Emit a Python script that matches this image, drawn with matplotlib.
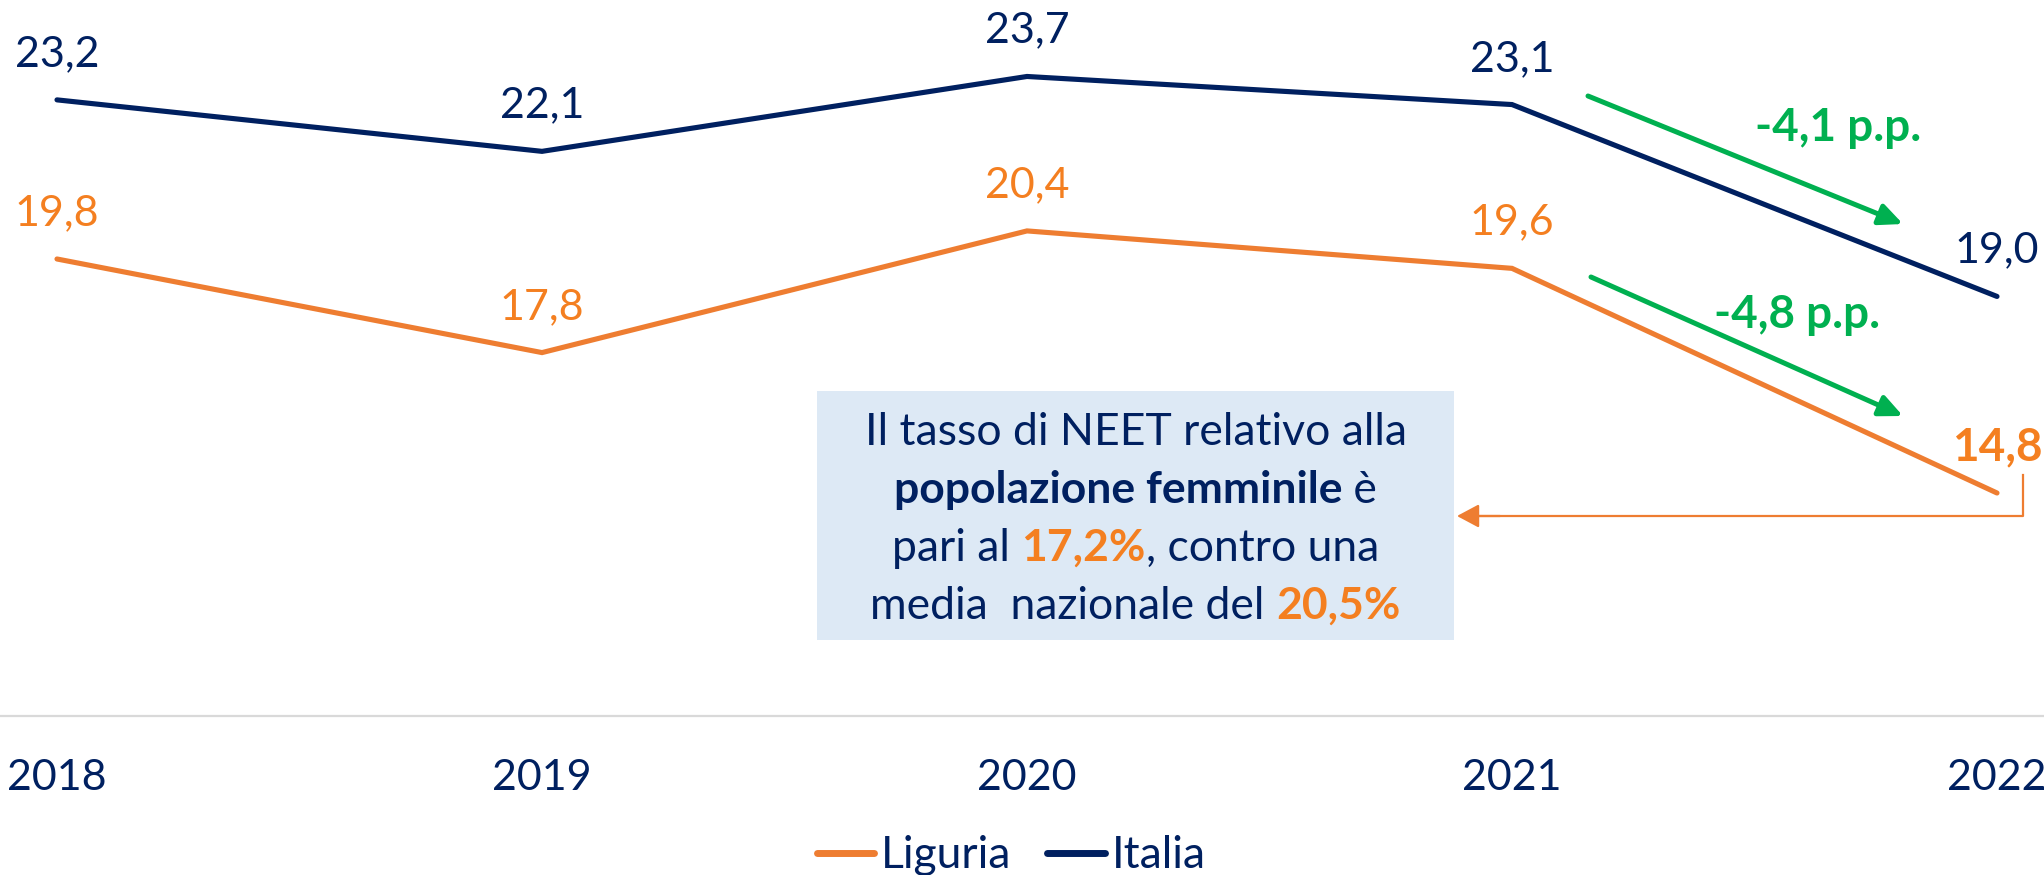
import matplotlib
matplotlib.use("Agg")
import matplotlib.pyplot as plt
from matplotlib.patches import Rectangle
from matplotlib.lines import Line2D

plt.rcParams['font.family'] = ['Lato', 'DejaVu Sans']

# ---- data ----
years = ["2018", "2019", "2020", "2021", "2022"]
liguria = [19.8, 17.8, 20.4, 19.6, 14.8]
italia = [23.2, 22.1, 23.7, 23.1, 19.0]
series_names = ["Liguria", "Italia"]
delta_labels = ["-4,1 p.p.", "-4,8 p.p."]
box_lines = [
    [("Il tasso di NEET relativo alla", "normal", "navy")],
    [("popolazione femminile", "bold", "navy"), (" è", "normal", "navy")],
    [("pari al ", "normal", "navy"), ("17,2%", "bold", "orange"), (", contro una", "normal", "navy")],
    [("media  nazionale del ", "normal", "navy"), ("20,5%", "bold", "orange")],
]

NAVY = "#002060"
ORANGE = "#ee7d31"
ORANGE_T = "#f47f20"
GREEN = "#00b050"
BOXC = "#dde9f5"
COLORS = {"navy": NAVY, "orange": ORANGE_T}

W, H = 2044, 875
DPI = 100
fig = plt.figure(figsize=(W / DPI, H / DPI), dpi=DPI)

def fx(px):
    return px / W

def fy(py):
    return 1 - py / H

FS = 31
FSB = 33
FSBOX = 32

ax = fig.add_axes([0, fy(716), 1, 716 / H])
ax.set_facecolor("none")
x = list(range(len(years)))
ax.plot(x, liguria, color=ORANGE, lw=3.7, solid_capstyle="round", solid_joinstyle="miter", label=series_names[0])
ax.plot(x, italia, color=NAVY, lw=3.7, solid_capstyle="round", solid_joinstyle="miter", label=series_names[1])
ax.set_xlim(-57 / 485, (W - 57) / 485)
ax.set_ylim(10.035, 25.334)

for s in ["top", "left", "right"]:
    ax.spines[s].set_visible(False)
ax.spines["bottom"].set_color("#d9d9d9")
ax.spines["bottom"].set_linewidth(1.6)
ax.set_yticks([])
ax.set_xticks(x)
ax.set_xticklabels(years)
ax.tick_params(axis="x", length=0, pad=31, labelsize=FS, labelcolor=NAVY)

def fmt(v):
    return f"{v:.1f}".replace(".", ",")

for i, v in enumerate(italia):
    ax.annotate(fmt(v), (i, v), xytext=(0, 33), textcoords="offset points",
                ha="center", va="center", fontsize=FS, color=NAVY)
for i, v in enumerate(liguria):
    last = i == len(liguria) - 1
    ax.annotate(fmt(v), (i, v), xytext=(0, 33), textcoords="offset points",
                ha="center", va="center", fontsize=FSB if last else FS, color=ORANGE_T,
                fontweight="bold" if last else "normal")

# green arrows + labels
arrows = [((1588, 96), (1903, 224)), ((1591, 277), (1903, 416))]
label_pos = [(1838, 128), (1797, 315)]
for (s, e), lab, lp in zip(arrows, delta_labels, label_pos):
    ax.annotate("", xy=(fx(e[0]), fy(e[1])), xytext=(fx(s[0]), fy(s[1])),
                xycoords="figure fraction", textcoords="figure fraction",
                arrowprops=dict(arrowstyle="-|>,head_length=0.7,head_width=0.32",
                                lw=3.6, color=GREEN, shrinkA=0, shrinkB=0,
                                mutation_scale=20))
    fig.text(fx(lp[0]), fy(lp[1]), lab, ha="center", va="center",
             fontsize=FSB, fontweight="bold", color=GREEN)

# text box
rect = Rectangle((fx(817), fy(640)), (1454 - 817) / W, (640 - 391) / H,
                 transform=fig.transFigure, facecolor=BOXC, edgecolor="none", zorder=-5)
fig.add_artist(rect)

renderer = fig.canvas.get_renderer()

def seg_width(txt, weight):
    t1 = fig.text(0, 0, "|" + txt + "|", fontsize=FSBOX, fontweight=weight)
    t2 = fig.text(0, 0, "||", fontsize=FSBOX, fontweight=weight)
    w = t1.get_window_extent(renderer).width - t2.get_window_extent(renderer).width
    t1.remove()
    t2.remove()
    return w

baselines = [445, 503, 561, 619]
cx = (817 + 1454) / 2
for line, by in zip(box_lines, baselines):
    widths = [seg_width(t, w) for t, w, c in line]
    total = sum(widths)
    xpos = cx - total / 2
    for (t, w, c), wd in zip(line, widths):
        fig.text(fx(xpos), fy(by), t, ha="left", va="baseline", fontsize=FSBOX,
                 fontweight=w, color=COLORS[c])
        xpos += wd

# orange bracket + arrow
fig.add_artist(Line2D([fx(2023), fx(2023), fx(1480)], [fy(475), fy(516), fy(516)],
                      transform=fig.transFigure, color=ORANGE, lw=1.6))
ax.annotate("", xy=(fx(1457), fy(516)), xytext=(fx(1500), fy(516)),
            xycoords="figure fraction", textcoords="figure fraction",
            arrowprops=dict(arrowstyle="-|>,head_length=0.75,head_width=0.4",
                            lw=1.6, color=ORANGE, shrinkA=0, shrinkB=0,
                            mutation_scale=18))

# legend
handles = [Line2D([], [], color=ORANGE, lw=5, solid_capstyle="round"),
           Line2D([], [], color=NAVY, lw=5, solid_capstyle="round")]
leg = fig.legend(handles, series_names, loc="center", bbox_to_anchor=(fx(1011), fy(856)),
                 ncol=2, frameon=False, fontsize=FSBOX, handlelength=1.3,
                 handletextpad=0.15, columnspacing=0.8, borderpad=0)
for t in leg.get_texts():
    t.set_color(NAVY)

fig.savefig("out.png", dpi=DPI)
